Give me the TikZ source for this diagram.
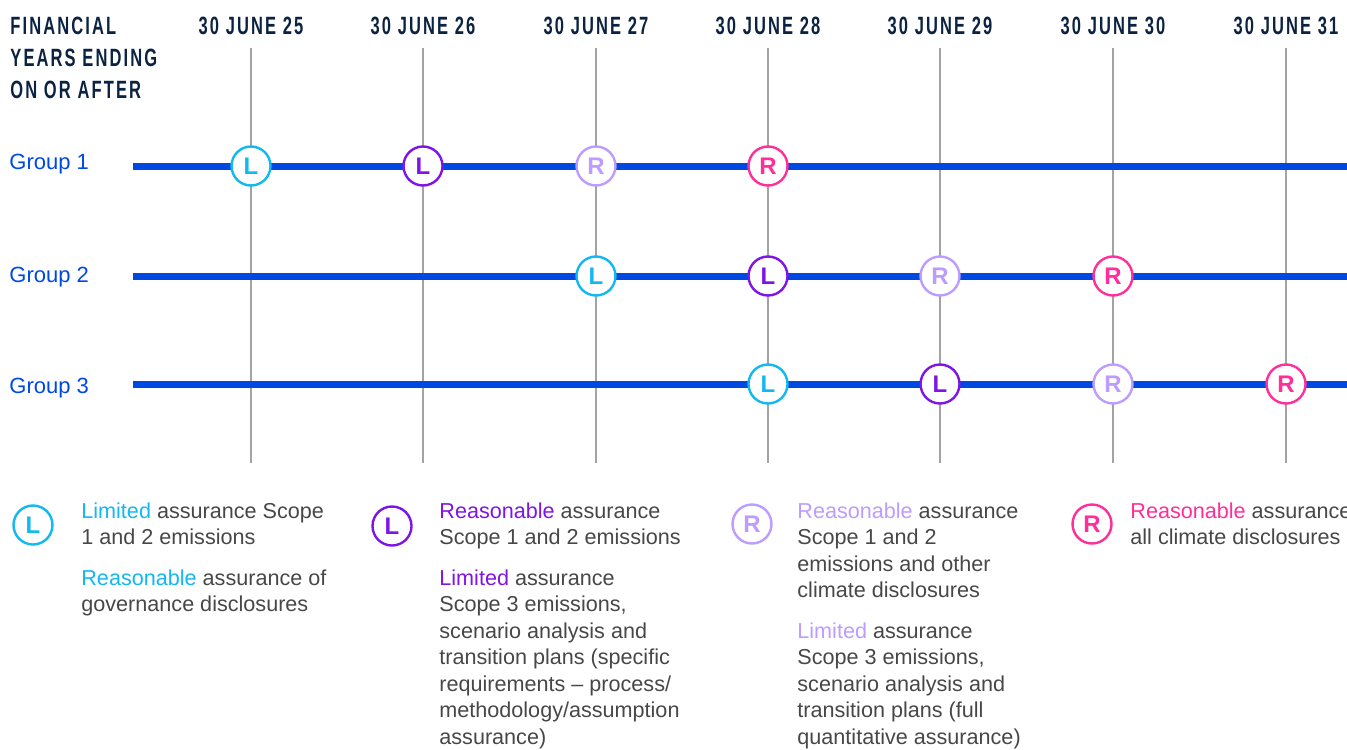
\documentclass[tikz,border=0pt]{standalone}
\usepackage{fontspec}
\setmainfont{Liberation Sans}
\newfontfamily\headfont[FakeStretch=0.66, LetterSpace=8.5]{Liberation Sans}
\usepackage{xcolor}
\usetikzlibrary{positioning, calc}
\definecolor{navy}{HTML}{0B2341}
\definecolor{lineblue}{HTML}{0048E2}
\definecolor{gridgray}{HTML}{A3A3A3}
\definecolor{bodygray}{HTML}{474747}
\definecolor{cyanL}{HTML}{12B8F0}
\definecolor{purpleL}{HTML}{7F14E6}
\definecolor{lavR}{HTML}{BD9CFF}
\definecolor{pinkR}{HTML}{FF2E9A}

\begin{document}
\begin{tikzpicture}[x=0.5pt, y=-0.5pt,
    every node/.style={inner sep=0pt},
    yearlbl/.style={font=\headfont\bfseries\fontsize{12.5}{16}\selectfont, text=navy, anchor=north},
    gridline/.style={draw=gridgray, line width=0.75pt},
    timeline/.style={draw=lineblue, line width=3.5pt},
    grplbl/.style={font=\fontsize{11}{13}\selectfont, text=lineblue, anchor=base west},
    badge/.style={circle, draw=#1, text=#1, fill=white, line width=1.2pt, minimum size=19.5pt, font=\bfseries\fontsize{12}{12}\selectfont},
    legtext/.style={font=\fontsize{10.8}{13.25}\selectfont, text=bodygray, align=left, anchor=north west}]

  \useasboundingbox (0,0) rectangle (1347,749);

  % column headings and year grid
  \node[yearlbl, anchor=north west, align=left] (fy) at (10,17) {FINANCIAL\\YEARS ENDING\\ON OR AFTER};
  \foreach \x/\yr in {251/25, 423/26, 596/27, 768/28, 940/29, 1113/30, 1286/31} {
    \node[yearlbl] (y\yr) at (\x,17) {30 JUNE \yr};
    \coordinate (top\yr) at (\x,48);
    \coordinate (bot\yr) at (\x,463);
    \draw[gridline] (top\yr) -- (bot\yr);
  }

  % one timeline per group
  \foreach \g/\y/\ly in {1/166/169, 2/276/282, 3/384/393} {
    \node[grplbl] (grp\g) at (9,\ly) {Group \g};
    \coordinate (start\g) at (133,\y);
    \coordinate (end\g) at (1347,\y);
    \draw[timeline] (start\g) -- (end\g);
  }

  % Group 1 milestones
  \node[badge=cyanL]   (m11) at (251,166) {L};
  \node[badge=purpleL] (m12) at (423,166) {L};
  \node[badge=lavR]    (m13) at (596,166) {R};
  \node[badge=pinkR]   (m14) at (768,166) {R};
  % Group 2 milestones
  \node[badge=cyanL]   (m21) at (596,276) {L};
  \node[badge=purpleL] (m22) at (768,276) {L};
  \node[badge=lavR]    (m23) at (940,276) {R};
  \node[badge=pinkR]   (m24) at (1113,276) {R};
  % Group 3 milestones
  \node[badge=cyanL]   (m31) at (768,384) {L};
  \node[badge=purpleL] (m32) at (940,384) {L};
  \node[badge=lavR]    (m33) at (1113,384) {R};
  \node[badge=pinkR]   (m34) at (1286,384) {R};

  % key
  \node[badge=cyanL]   (k1) at (33,525) {L};
  \node[badge=purpleL] (k2) at (392,526) {L};
  \node[badge=lavR]    (k3) at (752,524) {R};
  \node[badge=pinkR]   (k4) at (1092,524) {R};

  \node[legtext] (t1) at (81,502) {\textcolor{cyanL}{Limited} assurance Scope\\1 and 2 emissions\\[7pt]
    \textcolor{cyanL}{Reasonable} assurance of\\governance disclosures};
  \node[legtext] (t2) at (439,502) {\textcolor{purpleL}{Reasonable} assurance\\Scope 1 and 2 emissions\\[7pt]
    \textcolor{purpleL}{Limited} assurance\\Scope 3 emissions,\\scenario analysis and\\transition plans (specific\\requirements \textendash{} process/\\methodology/assumption\\assurance)};
  \node[legtext] (t3) at (797,502) {\textcolor{lavR}{Reasonable} assurance\\Scope 1 and 2\\emissions and other\\climate disclosures\\[7pt]
    \textcolor{lavR}{Limited} assurance\\Scope 3 emissions,\\scenario analysis and\\transition plans (full\\quantitative assurance)};
  \node[legtext] (t4) at (1130,502) {\textcolor{pinkR}{Reasonable} assurance\\all climate disclosures};
\end{tikzpicture}
\end{document}
